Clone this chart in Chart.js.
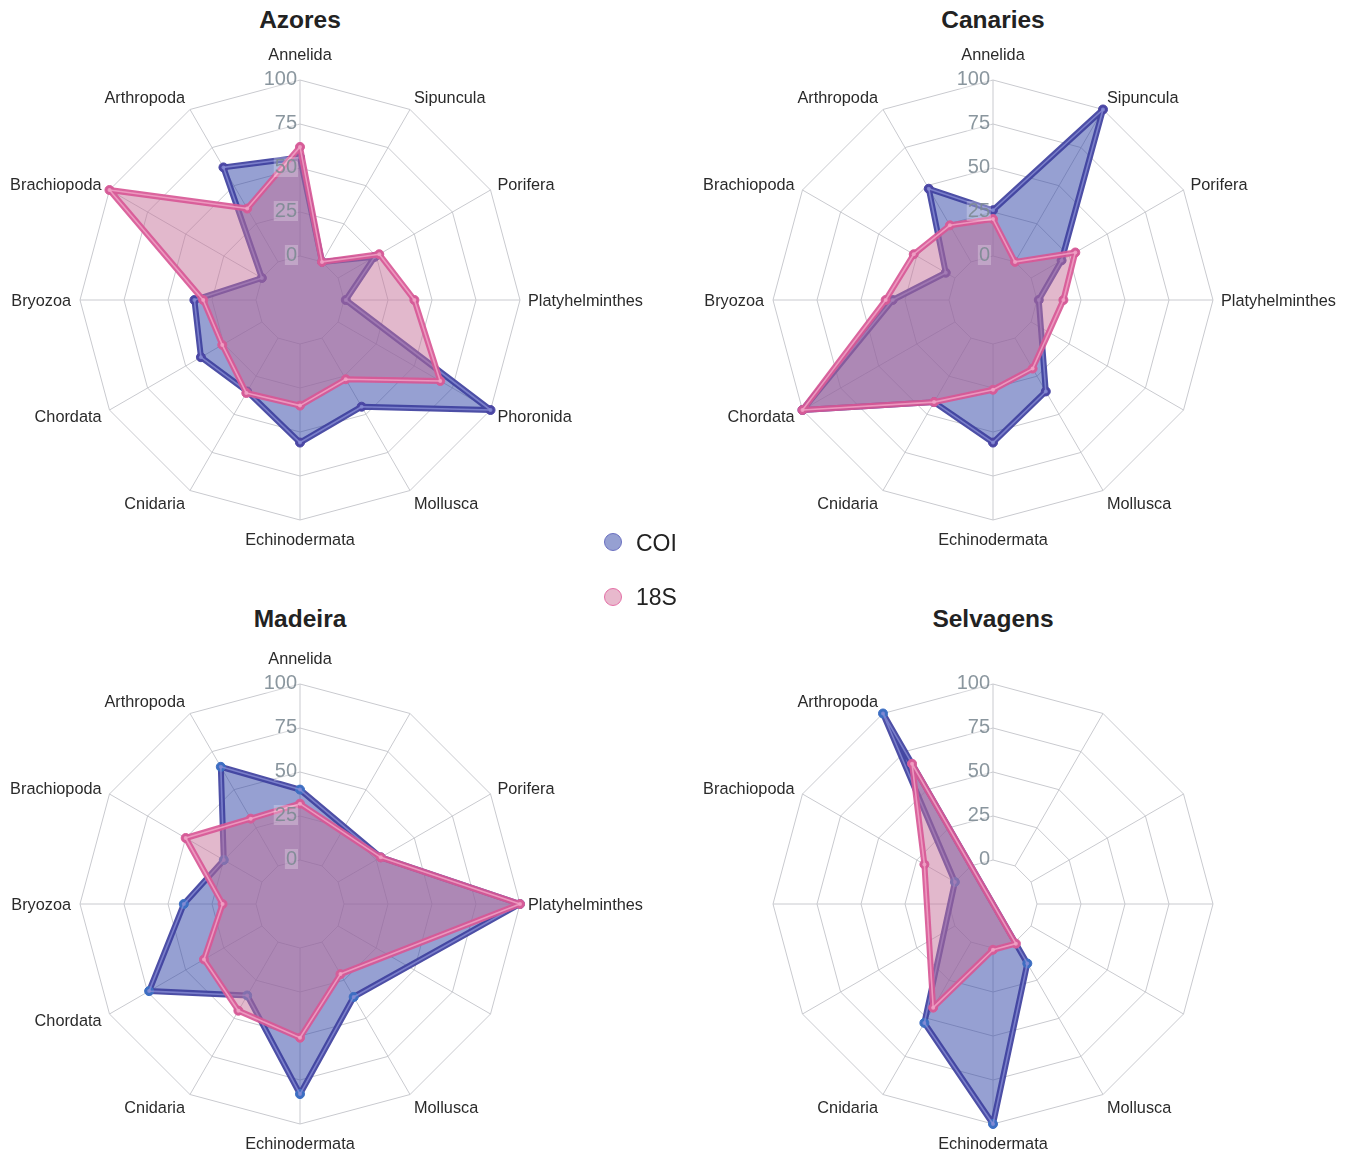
<!DOCTYPE html>
<html>
<head>
<meta charset="utf-8">
<script src="https://cdn.jsdelivr.net/npm/chart.js@4.4.1/dist/chart.umd.min.js"></script>
<style>
  html, body {
    margin: 0;
    padding: 0;
    background: #fff;
    width: 1354px;
    height: 1154px;
    overflow: hidden;
    position: relative;
    font-family: "Liberation Sans", Arial, sans-serif;
  }
  canvas { position: absolute; }
  .title {
    position: absolute;
    width: 300px;
    margin-left: -150px;
    text-align: center;
    font-weight: bold;
    font-size: 24.5px;
    line-height: 28px;
    color: #222;
  }
  .legend-dot {
    position: absolute;
    left: 604px;
    width: 16px;
    height: 16px;
    border-radius: 50%;
  }
  .legend-text {
    position: absolute;
    left: 636px;
    font-size: 23px;
    line-height: 26px;
    color: #222;
  }
</style>
</head>
<body>
<div class="title" style="left:300px; top:6px">Azores</div>
<div class="title" style="left:993px; top:6px">Canaries</div>
<div class="title" style="left:300px; top:605px">Madeira</div>
<div class="title" style="left:993px; top:605px">Selvagens</div>

<canvas id="azores" width="700" height="560" style="left:-30px; top:30px"></canvas>
<canvas id="canaries" width="700" height="560" style="left:663px; top:30px"></canvas>
<canvas id="madeira" width="700" height="560" style="left:-30px; top:634px"></canvas>
<canvas id="selvagens" width="700" height="560" style="left:663px; top:634px"></canvas>

<div class="legend-dot" style="top:533px; background:#96a0d2; border:1.5px solid #6b70c0"></div>
<div class="legend-text" style="top:530px">COI</div>
<div class="legend-dot" style="top:588px; background:#e8b9cd; border:1.5px solid #e46fa6"></div>
<div class="legend-text" style="top:584px">18S</div>

<script>
// phyla, clockwise from the top
const phyla = ["Annelida", "Sipuncula", "Porifera", "Platyhelminthes", "Phoronida", "Mollusca",
  "Echinodermata", "Cnidaria", "Chordata", "Bryozoa", "Brachiopoda", "Arthropoda"];
const radialTicks = [0, 25, 50, 75, 100];

// ================== values (%) ======================
const azoresCOI = [56, 0, 24, 1, 100, 45, 56, 35, 40, 35, 0, 62];
const azores18S = [62, 0, 27, 40, 67, 27, 35, 36, 26, 30, 100, 35];

const canariesCOI = [26, 100, 20, 1, null, 35, 56, 42, 100, 32, 6, 48];
const canaries18S = [21, 0, 29, 15, null, 20, 26, 42, 100, 36, 27, 24];

const madeiraCOI = [40, null, 28, 100, null, 36, 83, 35, 74, 41, 25, 65];
const madeira18S = [32, null, 28, 100, null, 21, 51, 45, 38, 19, 50, 31];

const selvagensCOI = [null, null, null, null, null, 14, 100, 53, null, null, 0, 100];
const selvagens18S = [null, null, null, null, null, 1, 1, 43, null, null, 20, 67];

const gridColor = "#c9cacf";

// spokes from the hole edge, category labels and radial tick labels
const polarDecor = {
  id: "polarDecor",
  beforeDatasetsDraw(chart) {
    const r = chart.scales.r;
    const ctx = chart.ctx;
    ctx.save();
    ctx.strokeStyle = gridColor;
    ctx.lineWidth = 1;
    phyla.forEach((p, i) => {
      const a = r.getPointPositionForValue(i, 0);
      const b = r.getPointPositionForValue(i, 100);
      ctx.beginPath();
      ctx.moveTo(a.x, a.y);
      ctx.lineTo(b.x, b.y);
      ctx.stroke();
    });

    ctx.font = "16.3px 'Liberation Sans', Arial, sans-serif";
    ctx.fillStyle = "#2a2a2a";
    phyla.forEach((p, i) => {
      const used = chart.data.datasets.some((ds) => ds.data[i] !== null);
      if (!used) return;
      const ang = r.getIndexAngle(i);
      const s = Math.sin(ang);
      const c = Math.cos(ang);
      const pos = r.getPointPosition(i, r.drawingArea + 8);
      let x = pos.x;
      let y = pos.y + 1.5;
      ctx.textBaseline = "middle";
      if (Math.abs(s) < 0.01) {
        ctx.textAlign = "center";
        y += c > 0 ? -18 : 11;
      } else {
        ctx.textAlign = s > 0 ? "left" : "right";
        y -= 7 * c * Math.abs(c);
        if (s < 0) x -= 1;
      }
      ctx.fillText(p, x, y);
    });
    ctx.restore();
  },
  afterDatasetsDraw(chart) {
    const r = chart.scales.r;
    const ctx = chart.ctx;
    ctx.save();
    ctx.font = "20px 'Liberation Sans', Arial, sans-serif";
    ctx.textAlign = "right";
    ctx.textBaseline = "middle";
    radialTicks.forEach((v) => {
      const y = r.yCenter - r.getDistanceFromCenterForValue(v) - 1;
      const x = r.xCenter - 3;
      const w = ctx.measureText(String(v)).width;
      ctx.fillStyle = "rgba(255,255,255,0.25)";
      ctx.fillRect(x - w - 1, y - 10, w + 2, 20);
      ctx.fillStyle = "rgba(125,139,147,0.9)";
      ctx.fillText(String(v), x, y);
    });
    ctx.restore();
  },
};

function radarChart(id, coi, s18, coiMarker) {
  return new Chart(document.getElementById(id), {
    type: "radar",
    data: {
      labels: phyla,
      datasets: [
        {
          label: "COI",
          data: coi,
          order: 4,
          fill: "start",
          backgroundColor: "rgba(45,65,165,0.5)",
          borderColor: "rgba(62,64,158,0.92)",
          borderWidth: 6,
          borderJoinStyle: "round",
          pointRadius: 4.5,
          pointBackgroundColor: coiMarker,
          pointBorderColor: coiMarker,
          pointBorderWidth: 1,
          spanGaps: true,
          clip: false,
        },
        {
          data: coi,
          order: 3,
          fill: false,
          borderColor: "rgba(135,140,212,0.8)",
          borderWidth: 1.6,
          borderJoinStyle: "round",
          pointRadius: 2,
          pointBackgroundColor: "rgba(135,140,212,0.8)",
          pointBorderWidth: 0,
          spanGaps: true,
          clip: false,
        },
        {
          label: "18S",
          data: s18,
          order: 2,
          fill: "start",
          backgroundColor: "rgba(197,113,153,0.5)",
          borderColor: "rgba(216,88,150,0.92)",
          borderWidth: 6,
          borderJoinStyle: "round",
          pointRadius: 4.5,
          pointBackgroundColor: "#d65c98",
          pointBorderColor: "#d65c98",
          pointBorderWidth: 1,
          spanGaps: true,
          clip: false,
        },
        {
          data: s18,
          order: 1,
          fill: false,
          borderColor: "rgba(240,162,198,0.85)",
          borderWidth: 1.6,
          borderJoinStyle: "round",
          pointRadius: 2,
          pointBackgroundColor: "rgba(240,162,198,0.85)",
          pointBorderWidth: 0,
          spanGaps: true,
          clip: false,
        },
      ],
    },
    options: {
      responsive: false,
      animation: false,
      layout: { padding: { left: 110, right: 150, top: 50, bottom: 70 } },
      scales: {
        r: {
          min: -25,
          max: 100,
          startAngle: 0,
          ticks: { display: false, stepSize: 25 },
          grid: { color: gridColor, lineWidth: 1 },
          angleLines: { display: false },
          pointLabels: { display: false },
        },
      },
      plugins: {
        legend: { display: false },
        tooltip: { enabled: false },
      },
    },
    plugins: [polarDecor],
  });
}

radarChart("azores", azoresCOI, azores18S, "#4a46a4");
radarChart("canaries", canariesCOI, canaries18S, "#4a46a4");
radarChart("madeira", madeiraCOI, madeira18S, "#3d6ec2");
radarChart("selvagens", selvagensCOI, selvagens18S, "#3d6ec2");
</script>
</body>
</html>
